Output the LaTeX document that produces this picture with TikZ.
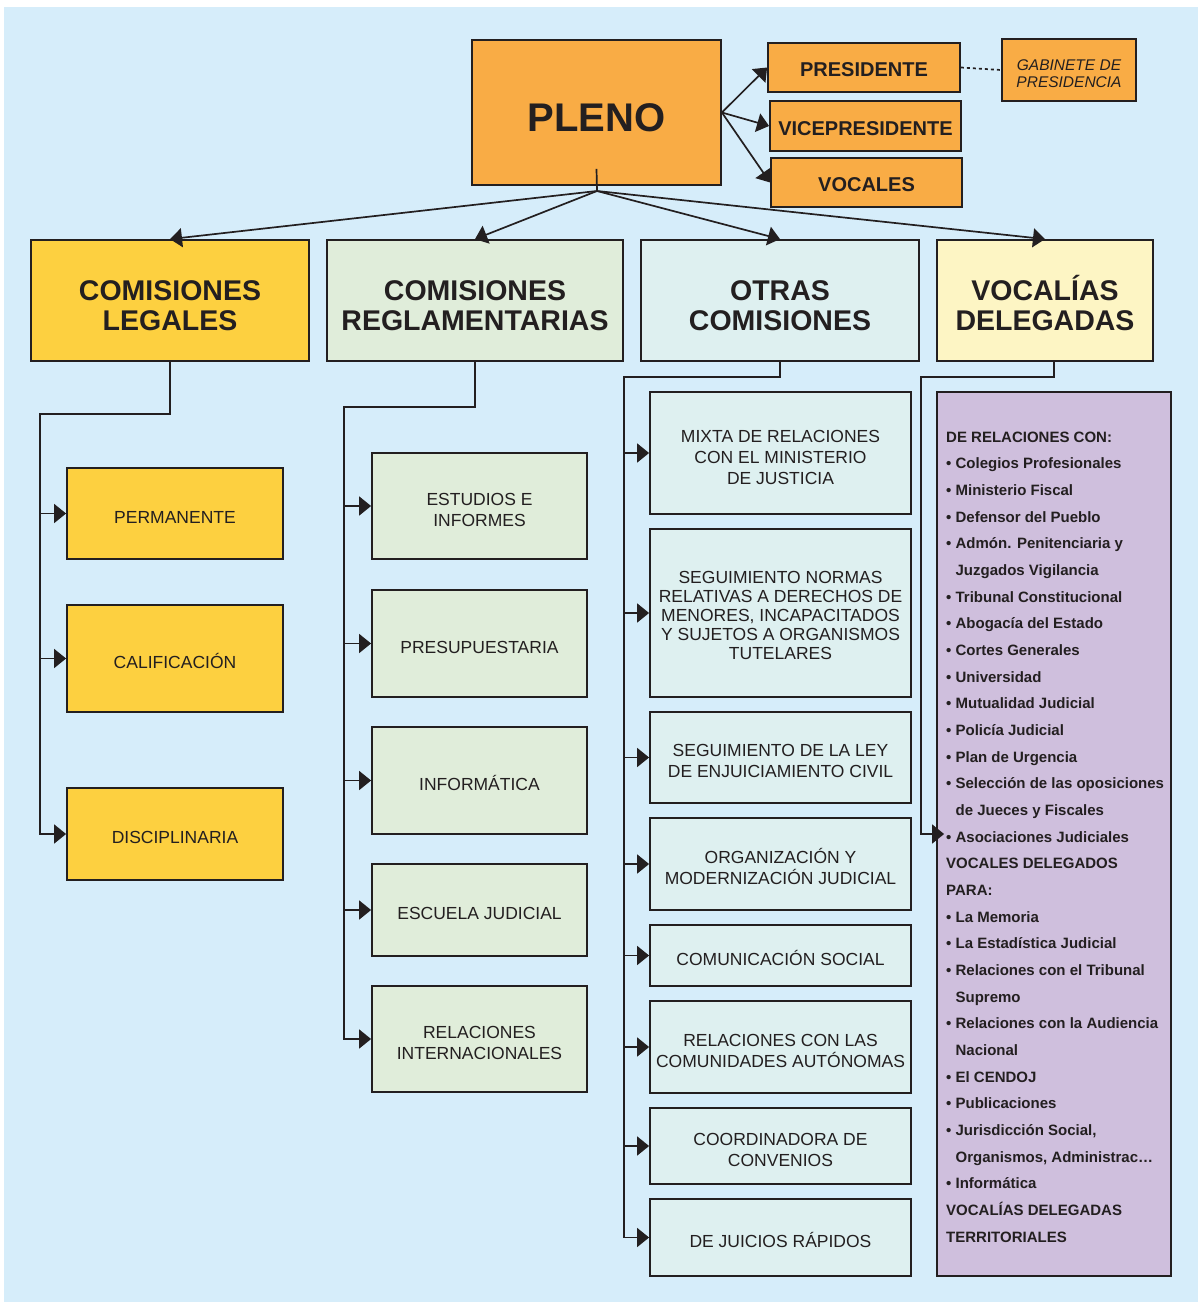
\documentclass[tikz,border=0pt]{standalone}
\usepackage{fontspec}
\setmainfont{Liberation Sans}
\usetikzlibrary{arrows.meta}
\definecolor{fondo}{RGB}{214,237,250}
\definecolor{naranja}{RGB}{249,172,69}
\definecolor{amarillo}{RGB}{253,208,64}
\definecolor{verde}{RGB}{224,237,218}
\definecolor{celeste}{RGB}{222,240,240}
\definecolor{crema}{RGB}{253,245,196}
\definecolor{lila}{RGB}{207,191,221}
\definecolor{tinta}{RGB}{35,31,32}
\newcommand{\vi}{\textbullet\ }
\newcommand{\sigue}{\hphantom{\textbullet\ }}
\tikzset{>={Triangle[length=12pt,width=19pt]},
  alto/.style={execute at begin node={\rule{0pt}{#1}}},
  caja/.style={draw=tinta,line width=1.8pt,inner sep=0pt,align=center,text=tinta},
  cargo/.style={caja,fill=naranja,alto=0.92em,font=\fontsize{20}{22}\selectfont\bfseries},
  titulo/.style={caja,alto=61pt,font=\fontsize{28.5}{30}\selectfont\bfseries},
  hijo/.style={caja,alto=1.1em,font=\fontsize{17.5}{21}\selectfont},
  doble/.style={hijo,alto=40.5pt},
  linea/.style={draw=tinta,line width=1.7pt},
  lista/.style={anchor=base west,inner sep=0pt,text=tinta,font=\fontsize{15}{18}\selectfont\bfseries}}
\begin{document}
\begin{tikzpicture}[x=1pt,y=-1pt]
  \useasboundingbox (0,0) rectangle (1201,1304);
  \fill[fondo] (4,7) rectangle (1198,1302);
  % cabecera
  \node[caja,fill=naranja,minimum width=249,minimum height=145,alto=0.95em,font=\fontsize{40}{44}\selectfont\bfseries] (pleno) at (596.5,112.5) {PLENO};
  \node[cargo,minimum width=192,minimum height=49] (pres) at (864,67.5) {PRESIDENTE};
  \node[cargo,minimum width=191,minimum height=50] (vice) at (865.5,126) {VICEPRESIDENTE};
  \node[cargo,minimum width=191,minimum height=49] (voc) at (866.5,182.5) {VOCALES};
  \node[caja,fill=naranja,minimum width=134,minimum height=62,alto=35pt,font=\fontsize{15.5}{17}\selectfont\itshape] (gab) at (1069,70) {GABINETE DE\\PRESIDENCIA};
  \draw[linea,->] (pleno.east) -- (pres.west);
  \draw[linea,->] (pleno.east) -- (vice.west);
  \draw[linea,->] (pleno.east) -- (voc.west);
  \draw[linea,dash pattern=on 3pt off 3pt] (pres.east) -- (gab.west);
  % comisiones
  \node[titulo,fill=amarillo,minimum width=278,minimum height=121] (cl) at (170,300.5) {COMISIONES\\LEGALES};
  \node[titulo,fill=verde,minimum width=296,minimum height=121] (cr) at (475,300.5) {COMISIONES\\REGLAMENTARIAS};
  \node[titulo,fill=celeste,minimum width=278,minimum height=121] (oc) at (780,300.5) {OTRAS\\COMISIONES};
  \node[titulo,fill=crema,minimum width=216,minimum height=121] (vd) at (1045,300.5) {VOCALÍAS\\DELEGADAS};
  \coordinate (fan) at (597,191);
  \draw[linea] ([yshift=17pt]pleno.south) -- (fan);
  \draw[linea,->] (fan) -- (cl.north);
  \draw[linea,->] (fan) -- (cr.north);
  \draw[linea,->] (fan) -- (oc.north);
  \draw[linea,->] (fan) -- (vd.north);
  % comisiones legales
  \node[hijo,fill=amarillo,minimum width=216,minimum height=91] (perm) at (175,513.5) {PERMANENTE};
  \node[hijo,fill=amarillo,minimum width=216,minimum height=107] (calif) at (175,658.5) {CALIFICACIÓN};
  \node[hijo,fill=amarillo,minimum width=216,minimum height=92] (disc) at (175,834) {DISCIPLINARIA};
  \coordinate (clbus) at (40,414);
  \draw[linea,->] (cl.south) |- (clbus) |- (disc.west);
  \draw[linea,->] (clbus |- perm.west) -- (perm.west);
  \draw[linea,->] (clbus |- calif.west) -- (calif.west);
  % comisiones reglamentarias
  \node[doble,fill=verde,minimum width=215,minimum height=106] (estud) at (479.5,506) {ESTUDIOS E\\INFORMES};
  \node[hijo,fill=verde,minimum width=215,minimum height=107] (presu) at (479.5,643.5) {PRESUPUESTARIA};
  \node[hijo,fill=verde,minimum width=215,minimum height=107] (info) at (479.5,780.5) {INFORMÁTICA};
  \node[hijo,fill=verde,minimum width=215,minimum height=92] (escu) at (479.5,910) {ESCUELA JUDICIAL};
  \node[doble,fill=verde,minimum width=215,minimum height=106] (relint) at (479.5,1039) {RELACIONES\\INTERNACIONALES};
  \coordinate (crbus) at (344,407);
  \draw[linea,->] (cr.south) |- (crbus) |- (relint.west);
  \foreach \n in {estud,presu,info,escu}
    \draw[linea,->] (crbus |- \n.west) -- (\n.west);
  % otras comisiones
  \node[hijo,alto=62.5pt,fill=celeste,minimum width=261,minimum height=122] (mixta) at (780.5,453) {MIXTA DE RELACIONES\\CON EL MINISTERIO\\DE JUSTICIA};
  \node[hijo,alto=92.5pt,fill=celeste,minimum width=261,minimum height=168,font=\fontsize{17.5}{19}\selectfont] (segnor) at (780.5,613) {SEGUIMIENTO NORMAS\\RELATIVAS A DERECHOS DE\\MENORES, INCAPACITADOS\\Y SUJETOS A ORGANISMOS\\TUTELARES};
  \node[doble,fill=celeste,minimum width=261,minimum height=91] (segley) at (780.5,757.5) {SEGUIMIENTO DE LA LEY\\DE ENJUICIAMIENTO CIVIL};
  \node[doble,fill=celeste,minimum width=261,minimum height=92] (organ) at (780.5,864) {ORGANIZACIÓN Y\\MODERNIZACIÓN JUDICIAL};
  \node[hijo,fill=celeste,minimum width=261,minimum height=61] (comun) at (780.5,955.5) {COMUNICACIÓN SOCIAL};
  \node[doble,fill=celeste,minimum width=261,minimum height=92] (ccaa) at (780.5,1047) {RELACIONES CON LAS\\COMUNIDADES AUTÓNOMAS};
  \node[doble,fill=celeste,minimum width=261,minimum height=76] (coord) at (780.5,1146) {COORDINADORA DE\\CONVENIOS};
  \node[hijo,fill=celeste,minimum width=261,minimum height=77] (juic) at (780.5,1237.5) {DE JUICIOS RÁPIDOS};
  \coordinate (ocbus) at (624,377);
  \draw[linea,->] (oc.south) |- (ocbus) |- (juic.west);
  \foreach \n in {mixta,segnor,segley,organ,comun,ccaa,coord}
    \draw[linea,->] (ocbus |- \n.west) -- (\n.west);
  % vocalias delegadas
  \node[caja,fill=lila,minimum width=234,minimum height=884] (vocal) at (1054,834) {};
  \coordinate (vdbus) at (921,377);
  \draw[linea,->,shorten >=-8pt] ([xshift=9pt]vd.south) |- (vdbus) |- (vocal.west);
  \foreach \txt [count=\i from 0] in {DE RELACIONES CON:, \vi Colegios Profesionales, \vi Ministerio Fiscal,
      \vi Defensor del Pueblo, \vi Admón. Penitenciaria y, \sigue Juzgados Vigilancia,
      \vi Tribunal Constitucional, \vi Abogacía del Estado, \vi Cortes Generales,
      \vi Universidad, \vi Mutualidad Judicial, \vi Policía Judicial, \vi Plan de Urgencia,
      \vi Selección de las oposiciones, \sigue de Jueces y Fiscales, \vi Asociaciones Judiciales,
      VOCALES DELEGADOS, PARA:, \vi La Memoria, \vi La Estadística Judicial,
      \vi Relaciones con el Tribunal, \sigue Supremo, \vi Relaciones con la Audiencia,
      \sigue Nacional, \vi El CENDOJ, \vi Publicaciones, {\vi Jurisdicción Social,},
      {\sigue Organismos, Administrac…}, \vi Informática, VOCALÍAS DELEGADAS, TERRITORIALES}
    \node[lista] (l\i) at (946,{442+26.67*\i}) {\txt};
\end{tikzpicture}
\end{document}
